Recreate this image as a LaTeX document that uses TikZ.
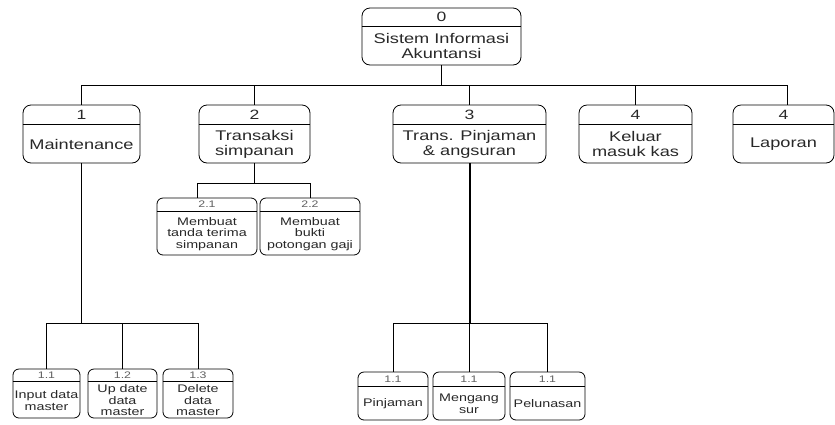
\documentclass[tikz,border=0pt]{standalone}
\usepackage{fontspec}
\setmainfont{Liberation Sans}[FakeStretch=1.3]
\usepackage{tikz}
\definecolor{ink}{RGB}{40,40,40}
\definecolor{numgray}{RGB}{95,95,95}

\tikzset{
  bigbox/.style={draw=black, line width=0.8pt, rounded corners=8pt},
  smallbox/.style={draw=black, line width=0.8pt, rounded corners=6pt},
  bignum/.style={font=\fontsize{13.5}{15}\selectfont, text=ink, inner sep=0pt},
  smallnum/.style={font=\fontsize{9.5}{10}\selectfont, text=numgray, inner sep=0pt},
  bigtxt/.style={font=\fontsize{14}{15}\selectfont, text=ink, align=center, inner sep=0pt},
  smalltxt/.style={font=\fontsize{11}{11.5}\selectfont, text=ink, align=center, inner sep=0pt},
  link/.style={draw=black, line width=0.8pt}
}

% #1 name, #2 centre x, #3 top, #4 width, #5 height, #6 header height,
% #7 big/small, #8 number, #9 text
\newcommand{\procbox}[9]{%
  \node[#7box, minimum width=#4pt, minimum height=#5pt, inner sep=0pt] (#1) at (#2,{#3+#5/2}) {};
  \draw[#7box, rounded corners=0pt] ([yshift=-#6pt]#1.north west) -- ([yshift=-#6pt]#1.north east);
  \node[#7num] (#1num) at ([yshift={-#6/2*1pt}]#1.north) {#8};
  \node[#7txt] (#1txt) at ([yshift={(#5-#6)/2*1pt}]#1.south) {#9};
}

\begin{document}
\begin{tikzpicture}[x=1pt, y=-1pt]
  \useasboundingbox (0,0) rectangle (835,424);

  % top process
  \procbox{m0}{441.5}{8}{159}{57}{19}{big}{0}{Sistem Informasi\\Akuntansi}

  % first level
  \procbox{m1}{81.5}{105}{117}{58}{20}{big}{1}{Maintenance}
  \procbox{m2}{254.5}{105}{111}{58}{20}{big}{2}{Transaksi\\simpanan}
  \procbox{m3}{469.5}{105}{153}{58}{20}{big}{3}{Trans. Pinjaman\\\& angsuran}
  \procbox{m4}{635.5}{105}{113}{58}{20}{big}{4}{Keluar\\masuk kas}
  \procbox{m5}{783.5}{105}{101}{58}{20}{big}{4}{Laporan}

  % under transaksi simpanan
  \procbox{m21}{207}{198}{100}{57}{14}{small}{2.1}{Membuat\\tanda terima\\simpanan}
  \procbox{m22}{310}{198}{100}{57}{14}{small}{2.2}{Membuat\\bukti\\potongan gaji}

  % under maintenance
  \procbox{m11}{46.5}{369}{67}{49}{13}{small}{1.1}{Input data\\master}
  \procbox{m12}{122.5}{369}{69}{49}{13}{small}{1.2}{Up date\\data\\master}
  \procbox{m13}{198}{369}{70}{49}{13}{small}{1.3}{Delete\\data\\master}

  % under pinjaman
  \procbox{m31}{393}{372}{70}{48}{15}{small}{1.1}{Pinjaman}
  \procbox{m32}{469}{372}{72}{48}{15}{small}{1.1}{Mengang\\sur}
  \procbox{m33}{547.5}{372}{75}{48}{15}{small}{1.1}{Pelunasan}

  % connectors
  \coordinate (bus0) at (441.5,85);
  \draw[link] (m0.south) -- (bus0);
  \foreach \k in {m1,m2,m3,m4}
    \draw[link] (bus0) -| (\k.north);
  \draw[link] (bus0) -| ([xshift=4pt]m5.north);

  \coordinate (bus2) at (254.5,183);
  \draw[link] (m2.south) -- (bus2);
  \draw[link] (bus2) -| ([xshift=-10pt]m21.north);
  \draw[link] (bus2) -| (m22.north);

  \coordinate (bus1) at (81.5,323);
  \draw[link, line width=1.3pt] (m1.south) -- (bus1);
  \foreach \k in {m11,m12,m13}
    \draw[link] (bus1) -| (\k.north);

  \coordinate (bus3) at (469.5,323);
  \draw[link, line width=2pt] (m3.south) -- (bus3);
  \foreach \k in {m31,m32,m33}
    \draw[link] (bus3) -| (\k.north);

\end{tikzpicture}
\end{document}
